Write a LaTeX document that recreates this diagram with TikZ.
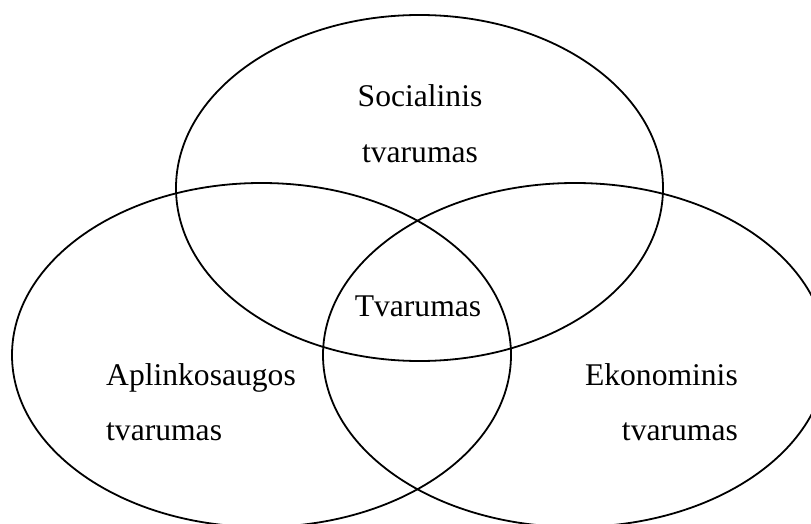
\documentclass[tikz,border=0pt]{standalone}
\usepackage{fontspec}
\setmainfont{Liberation Serif}
\begin{document}
\begin{tikzpicture}[x=1pt,y=-1pt,
  circ/.style={draw=black,line width=1.8pt},
  lbl/.style={inner sep=0pt,font=\fontsize{31.6}{37}\selectfont}]
\useasboundingbox (0,0) rectangle (811,524);
\begin{scope}
\clip (0,0) rectangle (811,524);
\draw[circ] (419.5,188) ellipse [x radius=243.5pt, y radius=173pt];
\draw[circ] (261.5,355) ellipse [x radius=249.5pt, y radius=172pt];
\draw[circ] (575,355) ellipse [x radius=252pt, y radius=172pt];
\end{scope}
\node[lbl,anchor=base] (s1) at (420,107) {Socialinis};
\node[lbl,anchor=base] (s2) at (420,162) {tvarumas};
\node[lbl,anchor=base] (t) at (418,316) {Tvarumas};
\node[lbl,anchor=base west] (a1) at (106,385) {Aplinkosaugos};
\node[lbl,anchor=base west] (a2) at (106,440) {tvarumas};
\node[lbl,anchor=base east] (e1) at (738,385) {Ekonominis};
\node[lbl,anchor=base east] (e2) at (738,440) {tvarumas};
\end{tikzpicture}
\end{document}
